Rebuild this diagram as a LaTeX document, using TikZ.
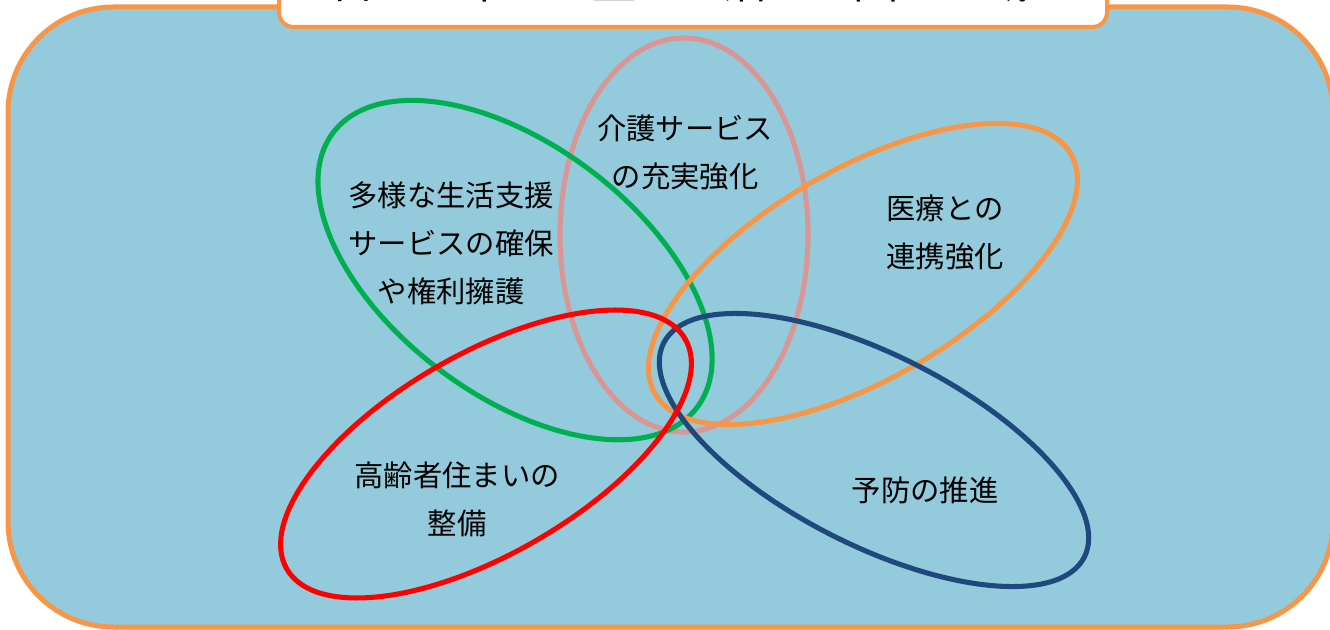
\documentclass[tikz,border=0pt]{standalone}
\usepackage{fontspec}
\newfontfamily\jpfont{Noto Sans CJK JP}
\usetikzlibrary{positioning}
\definecolor{bgblue}{HTML}{93CBDC}
\definecolor{frameorange}{HTML}{F79646}
\definecolor{ringpink}{HTML}{D99694}
\definecolor{ringgreen}{HTML}{00B050}
\definecolor{ringred}{HTML}{FF0000}
\definecolor{ringblue}{HTML}{1F497D}
\tikzset{%
  % Specifications for style of nodes:
	txt/.style = {align=center, font=\jpfont\fontsize{22}{36}\selectfont},
	titletxt/.style = {anchor=base, font=\jpfont\fontsize{34}{40}\selectfont},
	panel/.style = {draw=frameorange, fill=bgblue, line width=3.75pt, rounded corners=79pt},
	titlebox/.style = {draw=frameorange, fill=white, line width=3pt, rounded corners=11pt},
	ring/.style = {line width=3.8pt}
}

\begin{document}
\begin{tikzpicture}[x=0.75pt, y=-0.75pt]
  \useasboundingbox (0,0) rectangle (1330,630);
  \clip (0,0) rectangle (1330,630);
  % background panel and title box
  \draw [panel] (8,7) rectangle (1333,627);
  \draw [titlebox] (279,-80) rectangle (1107,27);
  \node (title) [titletxt] at (680,-1) {日\kern64pt 常\kern64pt 生\kern64pt 活\kern64pt 圏\kern64pt 域};

  % centres of the rings
  \coordinate (kaigo)    at (684,235);
  \coordinate (seikatsu) at (515,270);
  \coordinate (iryo)     at (863,274);
  \coordinate (sumai)    at (486,454);
  \coordinate (yobo)     at (874,450);

  \draw [ring, draw=ringpink] (kaigo) ellipse [x radius=124, y radius=197];
  \draw [ring, draw=ringgreen, rotate around={-37:(seikatsu)}] (seikatsu) ellipse [x radius=228, y radius=125];
  \draw [ring, draw=frameorange, rotate around={30:(iryo)}] (iryo) ellipse [x radius=240, y radius=105];
  \draw [ring, draw=ringblue, rotate around={-27:(yobo)}] (yobo) ellipse [x radius=236, y radius=95];
  \draw [ring, draw=ringred, rotate around={30:(sumai)}] (sumai) ellipse [x radius=230, y radius=100];

  % Specification of nodes (position, etc.)
  \node (seikatsutxt) [txt] at (451,243) {多様な生活支援\\サービスの確保\\や権利擁護};
  \node (kaigotxt)    [txt] at (685,152) {介護サービス\\の充実強化};
  \node (iryotxt)     [txt] at (945,232) {医療との\\連携強化};
  \node (sumaitxt)    [txt] at (457,499) {高齢者住まいの\\整備};
  \node (yobotxt)     [txt] at (925,490) {予防の推進};
\end{tikzpicture}
\end{document}
